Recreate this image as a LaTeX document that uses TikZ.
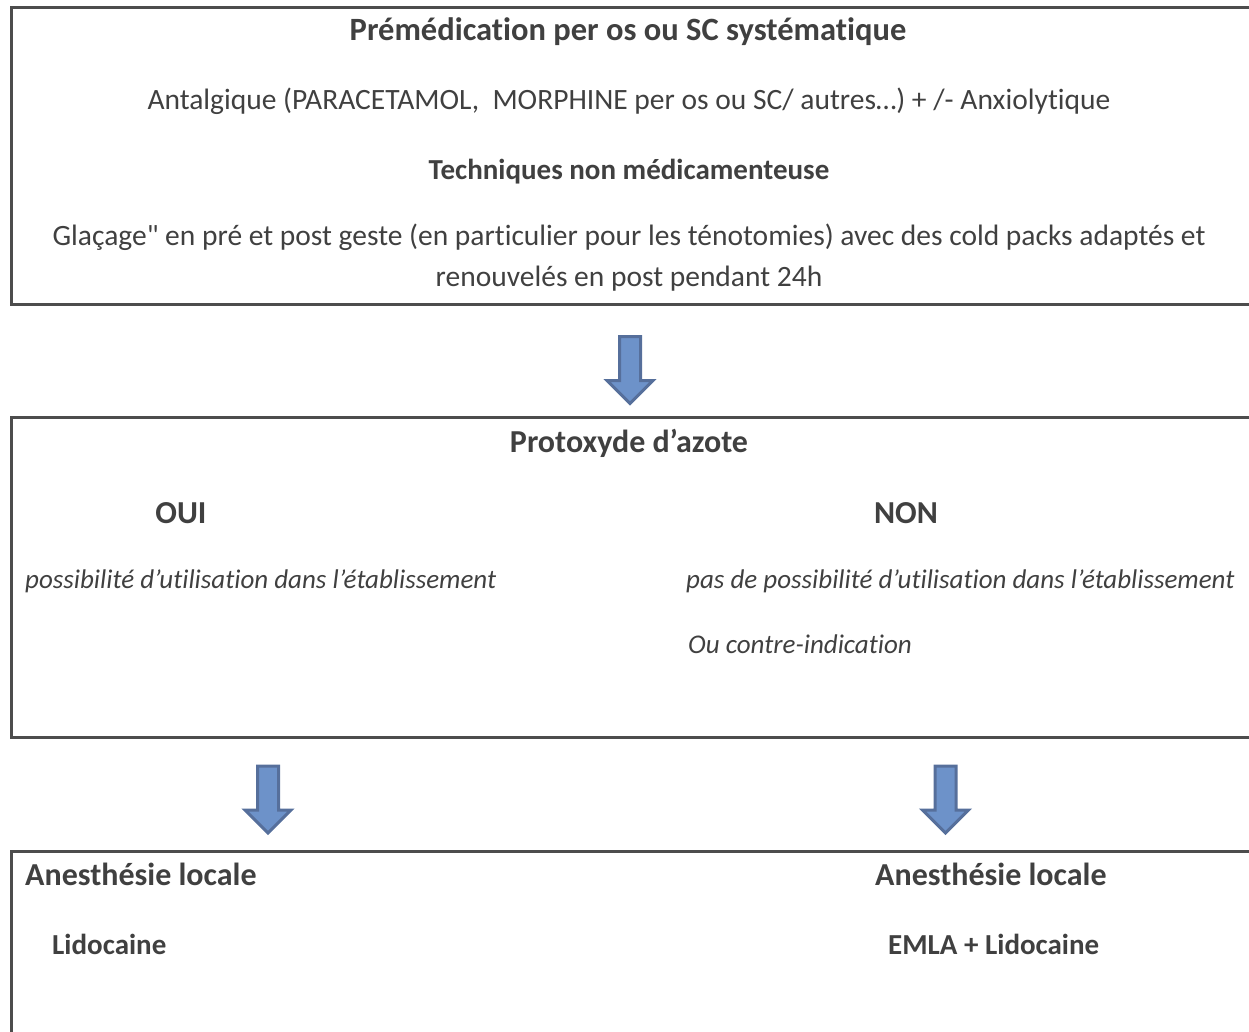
\documentclass[tikz,border=0pt]{standalone}
\usepackage{fontspec}
\setmainfont{Carlito}[Ligatures={TeXOff,NoCommon}]
\usetikzlibrary{positioning}
\definecolor{cT}{HTML}{404040}
\definecolor{cB}{HTML}{4D4D4D}
\definecolor{cF}{HTML}{6D92C9}
\definecolor{cE}{HTML}{566F9B}
\tikzset{
  frame/.style={draw=cB,line width=3pt,anchor=north west,inner sep=0pt},
  head/.style={text=cT,inner sep=0pt,anchor=base,
              font=\fontsize{32}{38}\selectfont\bfseries},
  small head/.style={head,font=\fontsize{29}{34}\selectfont\bfseries},
  body/.style={text=cT,inner sep=0pt,anchor=base,
              font=\fontsize{29.5}{42}\selectfont},
  note/.style={text=cT,inner sep=0pt,anchor=base west,
              font=\fontsize{27}{42}\selectfont\itshape},
  flowarrow/.pic={
    \draw[fill=cF,draw=cE,line width=3pt,line join=miter]
      (-10.5,0) -- (10.5,0) -- (10.5,44) -- (23,44) -- (0,67)
      -- (-23,44) -- (-10.5,44) -- cycle;
  },
}

\begin{document}
\begin{tikzpicture}[x=1pt,y=-1pt]
  \useasboundingbox (0,0) rectangle (1249,1031);
  \clip (0,0) rectangle (1249,1031);
  % premedication
  \node[frame,minimum width=1300pt,minimum height=297pt] (pre) at (10,6) {};
  \node[head,font=\fontsize{32.5}{38}\selectfont\bfseries] (preT) at (628,40)
     {Prémédication per os ou SC systématique};
  \node[body] (antal) at (629,109)
     {Antalgique (PARACETAMOL,\ \ MORPHINE per os ou SC/ autres…) + /- Anxiolytique};
  \node[small head] (tech) at (629,179)
     {Techniques non médicamenteuse};
  \node[body] (glaceA) at (629,245)
     {Glaçage" en pré et post geste (en particulier pour les ténotomies) avec des cold packs adaptés et};
  \node[body] (glaceB) at (629,286) {renouvelés en post pendant 24h};
  % protoxyde
  \pic (arrA) at (630,336.5) {flowarrow};
  \node[frame,minimum width=1300pt,minimum height=320pt] (prot) at (10,416) {};
  \node[head] (protT) at (629,452) {Protoxyde d’azote};
  \node[head] (oui) at (181,523) {OUI};
  \node[head] (non) at (906,523) {NON};
  \node[note] (ouiN) at (25,588) {possibilité d’utilisation dans l’établissement};
  \node[note] (nonN) at (686,588) {pas de possibilité d’utilisation dans l’établissement};
  \node[note] (nonC) at (688,653) {Ou contre-indication};
  % anesthesie locale
  \pic (arrB) at (268,766) {flowarrow};
  \pic (arrC) at (945.5,766) {flowarrow};
  \node[frame,minimum width=1300pt,minimum height=300pt] (anest) at (10,850) {};
  \node[head,anchor=base west] (anL) at (25,885) {Anesthésie locale};
  \node[small head,anchor=base west] (lido) at (52,954) {Lidocaine};
  \node[head,anchor=base west] (anR) at (875,885) {Anesthésie locale};
  \node[small head,anchor=base west] (emla) at (888,954) {EMLA + Lidocaine};
\end{tikzpicture}
\end{document}
